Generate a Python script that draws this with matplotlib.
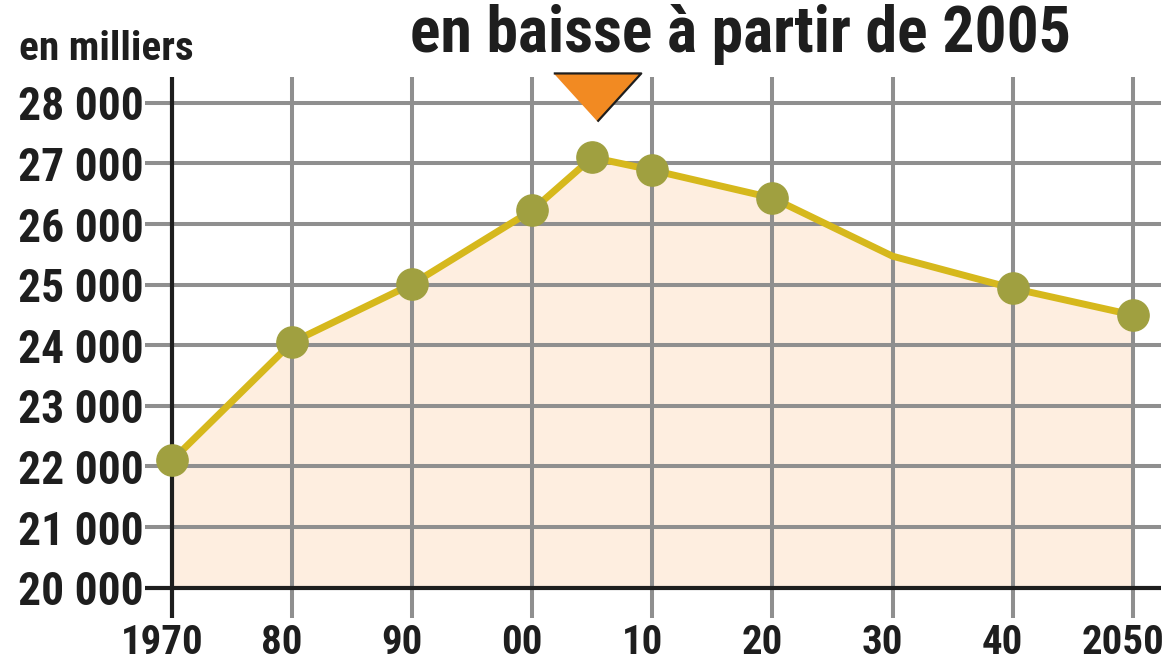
import matplotlib
matplotlib.use("Agg")
import matplotlib.pyplot as plt
from matplotlib import transforms
from matplotlib import font_manager as fm

# ---- data ----
years = [1970, 1980, 1990, 2000, 2005, 2010, 2020, 2030, 2040, 2050]
values = [22100, 24050, 25010, 26230, 27100, 26890, 26430, 25470, 24940, 24500]
marked = [True, True, True, True, True, True, True, False, True, True]
x_ticks = [1970, 1980, 1990, 2000, 2010, 2020, 2030, 2040, 2050]
x_labels = ["1970", "80", "90", "00", "10", "20", "30", "40", "2050"]
y_ticks = [20000, 21000, 22000, 23000, 24000, 25000, 26000, 27000, 28000]
y_labels = ["20 000", "21 000", "22 000", "23 000", "24 000", "25 000", "26 000", "27 000", "28 000"]
peak_year = 2005
title = "en baisse à partir de 2005"
unit = "en milliers"

# ---- font choice: prefer a condensed bold face ----
names = {f.name for f in fm.fontManager.ttflist}
STRETCH = "normal"
FAM = None
for pref in ["Roboto Condensed", "Liberation Sans Narrow", "DejaVu Sans Condensed", "Open Sans Condensed"]:
    if pref in names:
        FAM = [pref, "DejaVu Sans"]
        break
if FAM is None:
    if any(f.name == "DejaVu Sans" and f.stretch == "condensed" for f in fm.fontManager.ttflist):
        FAM = ["DejaVu Sans"]
        STRETCH = "condensed"
    else:
        FAM = ["Liberation Sans", "DejaVu Sans"]
plt.rcParams["font.family"] = FAM
plt.rcParams["font.stretch"] = STRETCH

LINE = "#d6b81c"
MARK = "#a0a040"
FILL = "#feeee0"
GRID = "#8f8f8f"
DARK = "#1e1e1e"

fig = plt.figure(figsize=(11.73, 6.68), dpi=100)
renderer = fig.canvas.get_renderer()


def fit_size(text, target_px, base=30):
    t = fig.text(0, 0, text, fontsize=base, fontweight="bold", fontstretch=STRETCH)
    w = t.get_window_extent(renderer).width
    t.remove()
    return base * target_px / w


ax = fig.add_axes([145 / 1173, 50 / 668, 1016 / 1173, 541 / 668])
ax.set_xlim(1967.75, 2052.35)
ax.set_ylim(19500, 28427)
for s in ax.spines.values():
    s.set_visible(False)

# fill
ax.fill_between(years, values, y_ticks[0], color=FILL, lw=0, zorder=0.5)

# grid
for yv in y_ticks[1:]:
    ax.axhline(yv, color=GRID, lw=2.9, zorder=1)
for xv in x_ticks[1:]:
    ax.axvline(xv, color=GRID, lw=2.9, zorder=1)
ax.axhline(y_ticks[0], color=DARK, lw=3.0, zorder=1.2)
ax.axvline(x_ticks[0], color=DARK, lw=3.0, zorder=1.2)

# line + markers
ax.plot(years, values, color=LINE, lw=5, zorder=3, solid_joinstyle="round")
mx = [y for y, m in zip(years, marked) if m]
my = [v for v, m in zip(values, marked) if m]
ax.plot(mx, my, ls="none", marker="o", ms=22.5, mfc=MARK, mec=MARK, zorder=4)

# peak triangle
tri = [(-1, 0.55), (1, 0.55), (0, -0.55)]
trans = transforms.blended_transform_factory(ax.transData, ax.transAxes)
ax.plot([peak_year + 0.4], [0.963], transform=trans, marker=tri, ms=63, mfc="#f28a22",
        mec=DARK, mew=1.6, ls="none", clip_on=False, zorder=5)

# ticks
xs = fit_size("2050", 83)
ys = fit_size("28 000", 126)
ax.set_xticks(x_ticks)
ax.set_xticklabels(x_labels)
ax.set_yticks(y_ticks)
ax.set_yticklabels(y_labels)
ax.tick_params(axis="both", length=0, colors=DARK)
ax.tick_params(axis="x", pad=4)
ax.tick_params(axis="y", pad=1)
for lab in ax.get_xticklabels():
    lab.set_fontsize(xs)
    lab.set_fontweight("bold")
    lab.set_fontstretch(STRETCH)
    lab.set_transform(lab.get_transform() + transforms.ScaledTranslation(-10 / 100, 0, fig.dpi_scale_trans))
for lab in ax.get_yticklabels():
    lab.set_fontsize(ys)
    lab.set_fontweight("bold")
    lab.set_fontstretch(STRETCH)

fig.text(741 / 1173, (668 - 52) / 668, title, ha="center", va="baseline",
         fontsize=fit_size(title, 662), fontweight="bold", fontstretch=STRETCH, color=DARK)
fig.text(19 / 1173, (668 - 60) / 668, unit, ha="left", va="baseline",
         fontsize=fit_size(unit, 174), fontweight="bold", fontstretch=STRETCH, color=DARK)

fig.savefig("out.png", dpi=100)
